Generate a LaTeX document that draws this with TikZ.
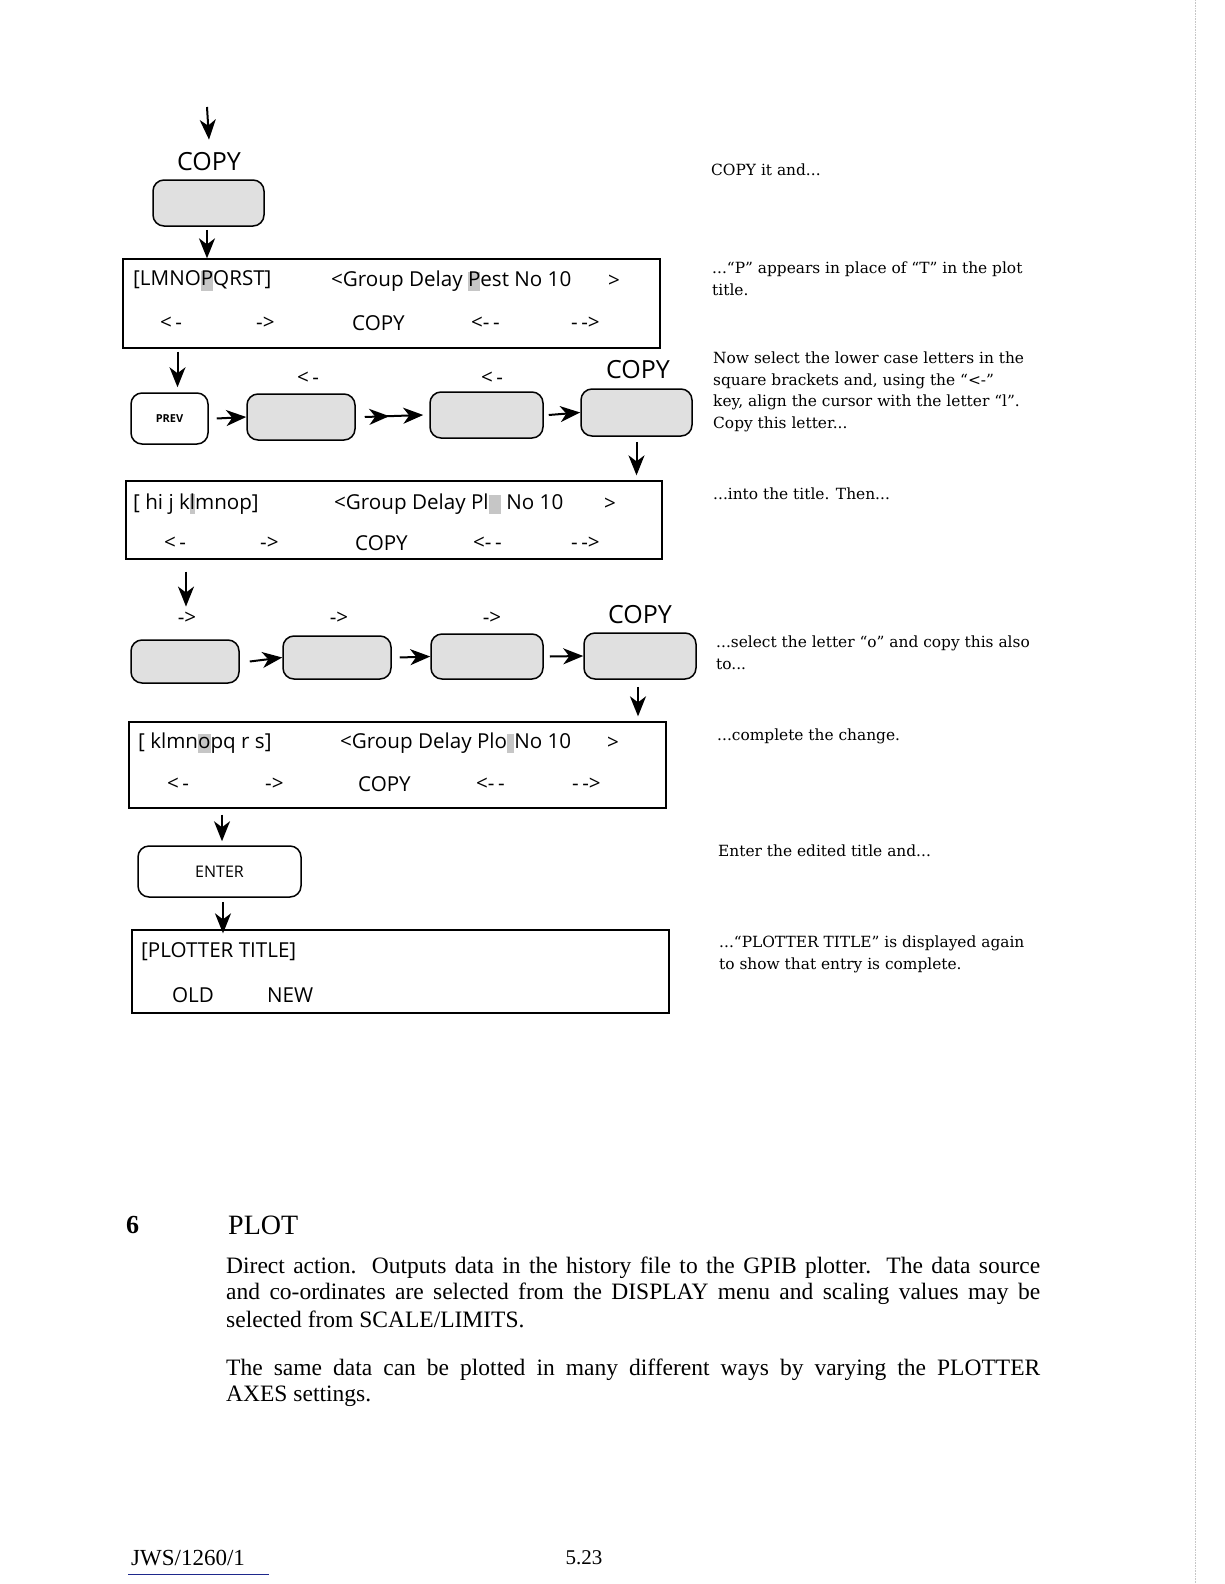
\documentclass[tikz,border=0pt]{standalone}
\usepackage{fontspec}
\usetikzlibrary{arrows.meta}
\setmainfont{Liberation Serif}
\newfontfamily\lcdfont{Open Sans}
\newfontfamily\notefont{DejaVu Serif}
\newcommand\curs[1]{{\setlength{\fboxsep}{0pt}\colorbox{gray!45}{\vphantom{Ag}#1}}}
\definecolor{ulblue}{RGB}{30,40,140}
\begin{document}
\begin{tikzpicture}[x=1pt,y=-1pt,
  key/.style={draw, line width=1.5pt, rounded corners=11pt, inner sep=0pt},
  shadedkey/.style={key, fill=gray!24},
  plainkey/.style={key, fill=white},
  lcd/.style={draw, line width=1.3pt, inner sep=0pt},
  lcdtxt/.style={font=\lcdfont\fontsize{20.6}{24}\selectfont, anchor=west, inner sep=0pt},
  keylbl/.style={font=\lcdfont\fontsize{25}{30}\selectfont, inner sep=0pt},
  note/.style={font=\notefont\fontsize{15.4}{21.5}\selectfont, anchor=north west, inner sep=0pt, align=left},
  body/.style={font=\fontsize{23.5}{25}\selectfont, anchor=west, inner sep=0pt},
  flow/.style={line width=2pt, -{Stealth[length=20pt,width=16pt,inset=6pt]}},
  flowtwo/.style={line width=2pt, -{Stealth[length=20pt,width=16pt,inset=6pt,sep=14pt]Stealth[length=20pt,width=16pt,inset=6pt]}},
]
\fill[white] (0,0) rectangle (1224,1584);
\useasboundingbox (0,0) rectangle (1224,1584);

% ---------- top ----------
\coordinate (start) at (207,107);
\node[keylbl] (copylbl) at (209,162) {COPY};
\draw[flow] (start) -- ([yshift=13pt]copylbl.north);
\node[shadedkey, minimum width=111pt, minimum height=46pt] (copykey) at (208.5,203) {};
\node[lcd, minimum width=537pt, minimum height=89pt] (lcd1) at (391.5,303.5) {};
\draw[flow] ([xshift=-1.5pt,yshift=-3pt]copykey.south) -- ([xshift=-1.5pt]copykey.south |- lcd1.north);

\node[lcdtxt] (l1a) at (133,281) {[LMNO\curs{P}QRST]};
\node[lcdtxt] (l1b) at (331,281) {<Group Delay \curs{P}est No 10};
\node[lcdtxt] (l1c) at (608,281) {>};
\node[lcdtxt] (l1d) at (160,323) {<\,-};
\node[lcdtxt] (l1e) at (256,323) {->};
\node[lcdtxt] (l1f) at (352,323) {COPY};
\node[lcdtxt] (l1g) at (471,323) {<-\,-};
\node[lcdtxt] (l1h) at (571,323) {-\,->};

% ---------- row 1 ----------
\node[plainkey, minimum width=77pt, minimum height=51pt, font=\lcdfont\bfseries\fontsize{11}{13}\selectfont] (prev) at (169.5,418.5) {PREV};
\node[shadedkey, minimum width=108pt, minimum height=46pt] (k12) at (301,417) {};
\node[shadedkey, minimum width=113pt, minimum height=46pt] (k13) at (486.5,415) {};
\node[shadedkey, minimum width=111pt, minimum height=47pt] (k14) at (636.5,412.5) {};
\node[lcdtxt, anchor=center] (r1a) at (308,378) {<\,-};
\node[lcdtxt, anchor=center] (r1b) at (492,378) {<\,-};
\node[keylbl] (r1c) at (638,370) {COPY};
\draw[flow] ([xshift=8pt,yshift=-3pt]prev.north |- lcd1.south) -- ([xshift=8pt,yshift=5pt]prev.north);
\draw[flow] ([xshift=8pt]prev.east) -- (k12.west);
\draw[flowtwo] ([xshift=9pt]k12.east) -- ([xshift=-6pt]k13.west);
\draw[flow] ([xshift=5pt]k13.east) -- (k14.west);

\node[lcd, minimum width=536pt, minimum height=78pt] (lcd2) at (394,520) {};
\draw[flow] ([yshift=-5pt]k14.south) -- ([yshift=5pt]k14.south |- lcd2.north);

\node[lcdtxt] (l2a) at (133,504) {[ hi j k\curs{l}mnop]};
\node[lcdtxt] (l2b) at (334,504) {<Group Delay Pl\curs{\hphantom{o}} No 10};
\node[lcdtxt] (l2c) at (604,504) {>};
\node[lcdtxt] (l2d) at (164,543) {<\,-};
\node[lcdtxt] (l2e) at (260,543) {->};
\node[lcdtxt] (l2f) at (355,543) {COPY};
\node[lcdtxt] (l2g) at (473,543) {<-\,-};
\node[lcdtxt] (l2h) at (571,543) {-\,->};

% ---------- row 2 ----------
\node[lcdtxt, anchor=center] (r2a) at (187,618) {->};
\node[lcdtxt, anchor=center] (r2b) at (339,618) {->};
\node[lcdtxt, anchor=center] (r2c) at (492,618) {->};
\node[keylbl] (r2d) at (640,615) {COPY};
\node[shadedkey, minimum width=108pt, minimum height=43pt] (k21) at (185,661.5) {};
\node[shadedkey, minimum width=108pt, minimum height=43pt] (k22) at (337,657.5) {};
\node[shadedkey, minimum width=112pt, minimum height=45pt] (k23) at (487,656.5) {};
\node[shadedkey, minimum width=112pt, minimum height=46pt] (k24) at (640,656) {};
\draw[flow] ([xshift=-1pt,yshift=-12pt]r2a.north |- lcd2.south) -- ([xshift=-1pt,yshift=5pt]r2a.north);
\draw[flow] ([xshift=10pt]k21.east) -- (k22.west);
\draw[flow] ([xshift=8pt]k22.east) -- (k23.west);
\draw[flow] ([xshift=6pt]k23.east) -- (k24.west);

\node[lcd, minimum width=537pt, minimum height=86pt] (lcd3) at (397.5,765) {};
\draw[flow] ([xshift=-2pt,yshift=-7pt]k24.south) -- ([xshift=-2pt,yshift=5pt]k24.south |- lcd3.north);

\node[lcdtxt] (l3a) at (138,743) {[ klmn\curs{o}pq r s]};
\node[lcdtxt] (l3b) at (340,743) {<Group Delay Plo\curs{\hphantom{t}}No 10};
\node[lcdtxt] (l3c) at (607,743) {>};
\node[lcdtxt] (l3d) at (167,784) {<\,-};
\node[lcdtxt] (l3e) at (265,784) {->};
\node[lcdtxt] (l3f) at (358,784) {COPY};
\node[lcdtxt] (l3g) at (476,784) {<-\,-};
\node[lcdtxt] (l3h) at (572,784) {-\,->};

% ---------- enter ----------
\node[plainkey, minimum width=163pt, minimum height=51pt, font=\lcdfont\fontsize{16}{19}\selectfont] (enter) at (219.5,871.5) {ENTER};
\draw[flow] ([xshift=2.5pt,yshift=-6pt]enter.north |- lcd3.south) -- ([xshift=2.5pt,yshift=4pt]enter.north);
\node[lcd, minimum width=537pt, minimum height=83pt] (lcd4) at (400.5,971.5) {};
\draw[flow] ([xshift=3.5pt,yshift=-4pt]enter.south) -- ([xshift=3.5pt,yshift=-4pt]enter.south |- lcd4.north);
\node[lcdtxt] (l4a) at (141,952) {[PLOTTER TITLE]};
\node[lcdtxt] (l4b) at (172,995) {OLD};
\node[lcdtxt] (l4c) at (267,995) {NEW};

% ---------- notes ----------
\node[note] (n1) at (711,164) {COPY it and...};
\node[note] (n2) at (712,262) {...“P” appears in place of “T” in the plot\\title.};
\node[note] (n3) at (713,352) {Now select the lower case letters in the\\square brackets and, using the “<-”\\key, align the cursor with the letter “l”.\\Copy this letter...};
\node[note] (n4) at (713,488) {...into the title. Then...};
\node[note] (n5) at (716,636) {...select the letter “o” and copy this also\\to...};
\node[note] (n6) at (717,729) {...complete the change.};
\node[note] (n7) at (718,845) {Enter the edited title and...};
\node[note] (n8) at (719,936) {...“PLOTTER TITLE” is displayed again\\to show that entry is complete.};

% ---------- section ----------
\node[body, font=\bfseries\fontsize{26}{30}\selectfont] (secnum) at (126,1225) {6};
\node[body, font=\fontsize{28}{32}\selectfont] (sectitle) at (228,1225) {PLOT};
\node[body] (p1) at (226,1268) {\makebox[814pt][s]{Direct action. Outputs data in the history file to the GPIB plotter. The data source}};
\node[body] (p2) at (226,1294) {\makebox[814pt][s]{and co-ordinates are selected from the DISPLAY menu and scaling values may be}};
\node[body] (p3) at (226,1319) {selected from SCALE/LIMITS.};
\node[body] (p4) at (226,1370) {\makebox[814pt][s]{The same data can be plotted in many different ways by varying the PLOTTER}};
\node[body] (p5) at (226,1396) {AXES settings.};

% ---------- footer ----------
\node[body, font=\fontsize{23}{25}\selectfont] (foot1) at (131,1558) {JWS/1260/1};
\draw[ulblue, line width=1pt] (128,1574) -- (269,1574);
\node[body, anchor=center, font=\fontsize{21}{25}\selectfont] (foot2) at (584,1558) {5.23};

% scan edge
\draw[gray!45, line width=0.6pt, densely dotted] (1195,0) -- (1195,1584);
\end{tikzpicture}
\end{document}
